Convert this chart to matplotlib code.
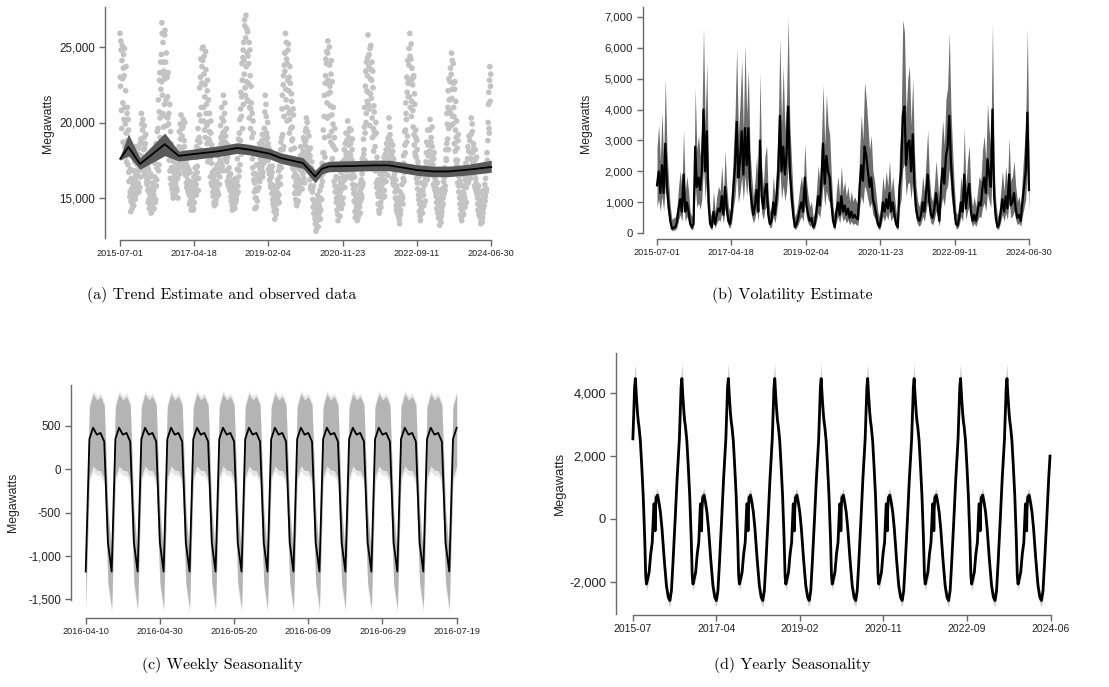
import datetime as dt
import numpy as np
import matplotlib
matplotlib.use("Agg")
import matplotlib.pyplot as plt
import matplotlib.dates as mdates
from matplotlib.ticker import FixedLocator, FixedFormatter

# ---------------- data ----------------
start_date = "2015-07-01"
end_date = "2024-06-30"
date_ticks = ["2015-07-01", "2017-04-18", "2019-02-04", "2020-11-23", "2022-09-11", "2024-06-30"]
month_ticks = ["2015-07", "2017-04", "2019-02", "2020-11", "2022-09", "2024-06"]
week_ticks = ["2016-04-10", "2016-04-30", "2016-05-20", "2016-06-09", "2016-06-29", "2016-07-19"]

# observed daily load (thousand MW), one value every 5 days from 1 July of each season year
obs_1516 = [25.9, 22.4, 24.8, 19.6, 25.1, 21.3, 23.6, 20.2, 24.9, 18.4, 22.1, 19.3, 17.8,
            21.0, 17.2, 19.5, 16.1, 18.4, 15.4, 14.1, 16.3, 15.0, 14.6, 16.8, 15.3,
            15.8, 17.4, 14.9, 16.5, 17.9, 15.6, 17.2, 16.0, 18.3, 16.9, 15.7, 17.6,
            18.9, 20.6, 17.4, 19.5, 16.8, 18.2, 19.8, 17.0, 18.6, 16.4, 17.7, 15.9,
            16.1, 14.7, 15.6, 14.3, 16.4, 15.0, 14.0, 15.4, 14.4, 16.0, 14.8, 15.2,
            15.7, 17.3, 14.9, 18.6, 16.2, 19.4, 18.1, 21.5, 17.2, 22.8, 20.3, 24.0]
obs_1617 = [24.5, 26.6, 21.8, 25.3, 19.7, 23.1, 25.8, 22.9, 20.4, 24.6, 18.8, 21.7, 23.3,
            19.9, 17.5, 21.2, 16.3, 18.6, 17.0, 15.6, 16.8, 15.0, 17.4, 15.9, 16.4,
            15.2, 16.9, 17.6, 15.5, 16.3, 18.1, 17.8, 19.4, 16.6, 18.9, 20.5, 17.3,
            19.1, 17.2, 20.2, 16.9, 18.4, 17.6, 16.5, 18.0, 15.7, 17.1, 16.2, 15.4,
            15.8, 14.6, 16.7, 15.1, 14.2, 16.0, 14.5, 15.9, 14.3, 16.4, 15.3, 17.0,
            16.6, 15.2, 18.4, 17.1, 19.6, 16.3, 19.0, 22.3, 18.2, 24.2, 21.0, 23.7]
obs_1718 = [22.6, 25.0, 20.1, 24.4, 21.7, 19.0, 23.5, 21.2, 18.6, 22.8, 20.0, 17.9, 19.4,
            18.7, 16.4, 20.1, 17.3, 15.8, 18.0, 15.1, 16.2, 14.5, 16.9, 15.6, 14.9,
            16.0, 17.2, 15.4, 16.7, 18.3, 15.9, 17.5, 19.8, 18.6, 21.0, 17.1, 19.3,
            21.8, 18.4, 20.6, 17.6, 19.1, 18.0, 17.4, 16.1, 18.5, 15.8, 17.0, 16.5,
            15.5, 16.6, 14.8, 15.9, 14.2, 16.2, 14.6, 15.7, 14.3, 15.1, 16.3, 14.9,
            16.1, 17.6, 15.4, 18.9, 16.8, 20.2, 18.8, 22.0, 20.4, 23.9, 19.6, 24.8]
obs_1819 = [25.3, 23.2, 26.4, 21.8, 27.1, 22.7, 24.6, 26.0, 21.4, 23.9, 20.3, 24.8, 19.6,
            22.4, 18.1, 20.6, 17.0, 19.3, 16.2, 15.4, 14.3, 16.6, 15.0, 17.2, 14.8,
            16.5, 17.9, 15.7, 18.6, 16.9, 17.3, 18.4, 17.0, 19.2, 16.7, 18.0, 17.6,
            19.6, 21.8, 18.2, 20.4, 17.5, 19.0, 18.6, 16.9, 17.8, 16.2, 18.1, 15.7,
            16.4, 15.3, 17.1, 14.6, 15.8, 14.1, 13.6, 14.8, 15.5, 14.2, 15.0, 16.2,
            15.3, 16.8, 14.7, 17.5, 15.9, 18.7, 17.6, 20.9, 19.2, 22.5, 18.4, 23.8]
obs_1920 = [23.4, 25.9, 21.5, 24.2, 20.1, 22.8, 25.2, 22.1, 19.3, 23.7, 20.8, 18.2, 21.4,
            19.7, 17.0, 20.5, 16.4, 18.3, 15.8, 14.9, 16.1, 14.5, 15.7, 17.0, 15.3,
            16.2, 17.5, 15.5, 18.4, 16.8, 17.1, 17.9, 16.6, 19.0, 17.3, 16.0, 18.5,
            18.8, 20.3, 17.2, 19.4, 16.9, 18.1, 17.5, 16.2, 18.3, 15.8, 17.0, 16.4,
            15.6, 14.4, 16.3, 13.9, 14.8, 13.3, 12.8, 14.1, 13.5, 15.2, 13.1, 14.6,
            14.0, 15.5, 13.6, 16.4, 14.9, 17.3, 16.6, 19.5, 18.0, 21.8, 17.7, 23.1]
obs_2021 = [22.6, 24.7, 20.3, 25.4, 21.9, 19.1, 23.8, 22.0, 18.7, 24.1, 20.5, 17.6, 19.9,
            18.4, 16.1, 19.6, 15.4, 17.2, 14.7, 14.2, 15.6, 13.5, 16.3, 14.8, 15.1,
            15.4, 16.7, 14.3, 16.0, 17.4, 15.0, 16.9, 18.2, 15.7, 17.6, 19.3, 16.4,
            18.0, 20.1, 16.8, 19.0, 17.3, 18.6, 17.8, 19.5, 16.3, 18.2, 15.9, 17.1,
            15.3, 16.4, 14.1, 15.8, 14.6, 13.9, 13.5, 14.7, 15.3, 13.9, 14.4, 15.9,
            14.8, 16.2, 15.0, 17.6, 16.0, 18.9, 18.2, 21.0, 19.3, 23.4, 20.6, 22.1]
obs_2122 = [23.1, 25.8, 21.2, 24.5, 19.8, 22.9, 25.1, 21.6, 24.0, 19.0, 22.3, 18.1, 20.7,
            19.2, 16.8, 20.0, 16.0, 17.7, 15.3, 14.6, 15.9, 14.0, 16.6, 15.2, 14.4,
            15.7, 16.9, 15.0, 17.3, 16.2, 15.5, 16.8, 17.9, 16.1, 18.6, 17.2, 16.5,
            18.3, 20.3, 17.0, 19.2, 18.8, 17.4, 17.9, 16.3, 18.5, 15.9, 17.1, 16.6,
            15.4, 16.2, 14.5, 15.8, 14.0, 15.0, 13.8, 14.9, 13.3, 15.4, 14.2, 14.7,
            15.2, 16.9, 14.6, 17.8, 16.1, 19.4, 18.0, 21.3, 20.2, 23.0, 19.1, 22.6]
obs_2223 = [22.8, 24.9, 25.9, 21.0, 24.2, 20.4, 23.6, 22.5, 19.7, 23.1, 18.5, 21.2, 17.8,
            19.0, 16.3, 18.2, 15.6, 17.1, 14.9, 14.1, 15.4, 13.5, 16.0, 14.7, 15.2,
            15.5, 16.6, 14.5, 17.0, 15.9, 16.3, 17.4, 18.7, 16.2, 19.5, 17.8, 16.7,
            18.1, 20.2, 16.9, 19.0, 17.5, 18.4, 17.2, 15.9, 18.0, 16.4, 15.5, 16.8,
            15.1, 14.3, 16.0, 14.8, 13.7, 15.4, 13.2, 14.5, 15.0, 13.8, 14.1, 15.6,
            14.6, 16.1, 15.3, 17.0, 15.8, 18.2, 17.5, 20.6, 18.9, 22.1, 19.6, 21.5]
obs_2324 = [21.5, 23.6, 19.8, 24.6, 22.2, 20.4, 23.9, 21.0, 18.6, 22.7, 19.5, 17.5, 20.1,
            18.3, 16.0, 19.2, 15.4, 16.8, 14.6, 13.9, 15.2, 13.5, 15.8, 14.6, 15.0,
            15.3, 16.5, 14.4, 16.9, 15.7, 16.1, 17.0, 18.4, 16.0, 19.1, 17.6, 16.6,
            18.0, 20.3, 16.8, 19.4, 17.3, 18.6, 17.1, 15.8, 18.2, 16.3, 15.4, 16.9,
            15.0, 14.2, 15.8, 14.6, 13.8, 15.3, 13.3, 14.4, 14.9, 13.7, 14.0, 15.5,
            14.5, 15.9, 15.1, 16.8, 15.6, 18.0, 17.4, 20.0, 22.0, 19.3, 23.7, 22.4]
# second reading of the same seasons, shifted by 2.5 days
obs2_1516 = [23.0, 25.4, 20.8, 24.1, 22.9, 18.7, 24.5, 23.1, 21.0, 19.9, 23.7, 17.4, 20.6,
             18.8, 20.2, 16.7, 17.9, 15.1, 16.9, 14.8, 15.6, 14.3, 16.0, 15.9, 14.5,
             16.8, 15.1, 16.2, 18.4, 15.3, 16.7, 16.5, 17.9, 15.4, 17.3, 18.6, 16.4,
             17.8, 19.9, 18.6, 20.2, 17.1, 19.0, 18.3, 16.6, 19.2, 17.4, 16.1, 17.2,
             15.5, 16.9, 14.9, 15.3, 14.6, 16.6, 14.5, 14.1, 15.7, 14.9, 15.5, 14.3,
             16.4, 14.7, 17.8, 15.8, 17.0, 18.2, 19.6, 16.8, 20.7, 23.3, 19.0, 22.2]
obs2_1617 = [22.7, 25.9, 20.6, 24.0, 23.4, 21.2, 26.1, 24.0, 21.5, 19.8, 23.0, 20.3, 18.6,
             20.6, 18.2, 16.8, 19.4, 15.9, 17.7, 16.2, 15.3, 17.0, 15.7, 16.6, 15.1,
             16.0, 15.7, 17.2, 16.8, 15.0, 17.5, 18.4, 17.0, 19.9, 17.7, 18.2, 19.6,
             18.0, 19.7, 17.5, 18.8, 20.0, 16.7, 17.3, 16.0, 17.6, 16.6, 15.5, 16.9,
             15.2, 16.1, 14.8, 15.5, 14.5, 15.6, 15.0, 14.2, 15.6, 14.7, 16.1, 15.8,
             15.9, 17.7, 16.7, 18.8, 15.5, 18.0, 20.5, 18.7, 23.0, 20.1, 22.6, 24.9]
obs2_1718 = [24.1, 21.0, 23.2, 19.5, 22.5, 24.7, 20.6, 19.8, 22.1, 17.4, 21.5, 18.9, 20.6,
             17.6, 19.3, 16.0, 18.5, 16.7, 15.4, 15.8, 14.7, 16.5, 15.2, 14.6, 16.1,
             15.6, 16.9, 17.8, 15.2, 17.0, 16.4, 18.1, 19.0, 17.3, 20.3, 18.8, 16.8,
             20.1, 19.4, 21.3, 18.7, 17.9, 19.6, 16.8, 17.7, 15.9, 16.4, 18.0, 15.6,
             16.0, 15.1, 15.6, 14.5, 15.3, 14.8, 15.3, 14.4, 16.0, 14.7, 15.6, 15.2,
             16.9, 15.8, 18.1, 16.4, 19.3, 17.2, 20.9, 17.9, 21.7, 22.8, 24.3, 21.2]
obs2_1819 = [24.1, 26.8, 22.3, 25.6, 23.7, 26.2, 21.5, 24.4, 22.6, 25.3, 21.0, 23.1, 20.9,
             21.3, 19.0, 17.6, 20.1, 16.6, 18.2, 16.0, 15.0, 15.6, 14.4, 16.2, 15.5,
             17.2, 16.3, 18.0, 16.1, 17.6, 16.6, 17.9, 18.8, 16.4, 18.5, 17.3, 19.6,
             20.7, 18.9, 21.2, 19.3, 18.4, 20.0, 17.5, 18.3, 16.6, 17.1, 15.9, 16.8,
             15.9, 16.7, 14.9, 15.5, 14.4, 15.1, 14.1, 15.2, 13.9, 14.6, 15.7, 14.8,
             16.0, 15.2, 17.1, 16.4, 18.2, 17.0, 19.0, 21.8, 18.2, 23.1, 20.4, 24.6]
obs2_1920 = [24.6, 22.2, 25.3, 21.0, 23.9, 24.8, 20.6, 23.0, 20.2, 22.6, 19.6, 21.9, 18.8,
             18.9, 20.9, 16.9, 17.6, 15.3, 16.6, 15.4, 14.6, 15.9, 16.4, 14.8, 16.0,
             15.8, 16.9, 17.8, 16.0, 17.3, 15.6, 17.0, 18.1, 16.3, 18.8, 17.6, 19.4,
             19.6, 17.8, 20.0, 18.3, 17.6, 19.1, 16.9, 17.8, 15.6, 16.7, 17.4, 15.4,
             14.9, 15.8, 14.0, 14.7, 13.6, 14.2, 13.4, 13.0, 14.4, 13.8, 14.9, 13.7,
             14.4, 15.0, 14.2, 15.8, 16.7, 16.1, 18.0, 17.2, 20.4, 19.0, 22.6, 24.2]
obs2_2021 = [23.9, 21.3, 24.6, 22.8, 20.4, 25.0, 22.4, 21.1, 23.2, 19.4, 22.7, 18.5, 21.0,
             17.1, 19.0, 15.8, 18.2, 16.4, 15.0, 14.9, 13.9, 15.3, 14.5, 15.8, 13.8,
             16.0, 14.8, 15.6, 17.0, 14.6, 16.4, 17.4, 16.2, 18.6, 16.8, 17.9, 18.8,
             19.3, 17.6, 18.5, 16.4, 19.6, 17.9, 18.6, 16.9, 17.5, 18.9, 16.6, 15.6,
             14.8, 15.6, 13.7, 15.1, 14.3, 14.6, 14.1, 13.7, 14.9, 14.6, 15.4, 14.0,
             15.6, 15.2, 16.6, 15.8, 17.3, 17.9, 19.7, 17.5, 22.4, 20.0, 24.0, 21.4]
obs2_2122 = [24.3, 22.0, 23.7, 20.9, 24.9, 21.9, 23.5, 22.8, 20.3, 23.4, 19.6, 21.1, 19.4,
             18.4, 17.2, 19.3, 15.7, 17.0, 16.2, 15.1, 14.2, 15.6, 16.1, 14.7, 15.3,
             16.3, 15.4, 16.6, 16.0, 17.7, 15.1, 17.3, 16.6, 18.2, 17.0, 17.7, 18.9,
             19.0, 17.7, 19.7, 18.1, 17.2, 18.6, 17.0, 18.1, 16.0, 17.6, 16.3, 15.8,
             15.0, 15.7, 14.2, 14.8, 14.4, 15.5, 14.3, 13.6, 14.6, 13.9, 14.8, 15.1,
             15.9, 15.0, 16.3, 17.3, 16.7, 18.5, 19.5, 20.6, 18.7, 22.0, 24.1, 21.7]
obs2_2223 = [23.8, 21.7, 24.4, 22.6, 25.2, 21.4, 22.9, 20.8, 23.0, 19.2, 21.9, 18.0, 19.5,
             17.7, 18.8, 16.0, 17.4, 15.2, 16.4, 14.6, 13.8, 15.1, 14.3, 15.5, 14.0,
             16.0, 15.2, 15.8, 16.8, 14.8, 16.5, 18.0, 16.9, 17.2, 18.5, 16.5, 17.3,
             19.5, 17.9, 18.7, 17.2, 19.7, 17.8, 16.6, 17.6, 15.7, 16.9, 16.2, 15.3,
             14.7, 15.6, 14.0, 15.0, 14.5, 14.2, 13.6, 14.2, 13.4, 14.7, 14.4, 15.2,
             15.0, 15.7, 16.4, 15.5, 16.6, 17.6, 18.6, 19.9, 21.0, 18.2, 22.9, 20.8]
obs2_2324 = [22.7, 20.6, 23.2, 21.6, 24.1, 19.9, 22.6, 20.4, 22.2, 18.1, 21.4, 19.0, 17.2,
             17.5, 18.8, 15.8, 16.4, 15.0, 16.1, 14.3, 13.7, 14.9, 14.1, 15.4, 13.9,
             15.8, 15.0, 16.2, 17.3, 14.7, 16.4, 17.6, 16.4, 18.1, 17.0, 18.8, 16.3,
             19.2, 17.6, 19.9, 18.0, 17.0, 18.3, 16.6, 17.5, 15.6, 16.0, 17.7, 15.2,
             14.6, 15.5, 13.9, 14.9, 14.3, 14.0, 13.5, 14.1, 13.4, 14.6, 14.3, 15.1,
             15.2, 14.8, 16.3, 15.4, 17.1, 17.5, 18.8, 21.2, 19.6, 22.8, 21.4, 23.2]
obs_seasons = [2015, 2016, 2017, 2018, 2019, 2020, 2021, 2022, 2023]

# trend estimate (decimal year, thousand MW) with credible band
trend_t = [2015.50, 2015.70, 2015.98, 2016.58, 2016.92, 2017.35, 2017.90, 2018.34, 2018.64, 2019.13,
           2019.40, 2019.93, 2020.23, 2020.40, 2020.57, 2021.10, 2021.64, 2022.01, 2022.32, 2022.70,
           2023.08, 2023.45, 2023.92, 2024.50]
trend_mid = [17.60, 18.38, 17.25, 18.56, 17.79, 17.93, 18.10, 18.31, 18.20, 17.93,
             17.64, 17.32, 16.43, 16.95, 17.09, 17.12, 17.16, 17.16, 17.03, 16.85,
             16.76, 16.76, 16.87, 17.05]
trend_hi = [17.75, 19.25, 17.65, 19.30, 18.10, 18.28, 18.45, 18.66, 18.55, 18.28,
            17.99, 17.67, 16.85, 17.30, 17.44, 17.47, 17.51, 17.51, 17.38, 17.20,
            17.11, 17.11, 17.22, 17.50]
trend_lo = [17.50, 17.80, 16.90, 17.80, 17.45, 17.58, 17.75, 17.96, 17.85, 17.58,
            17.29, 16.97, 16.00, 16.60, 16.74, 16.77, 16.81, 16.81, 16.68, 16.50,
            16.41, 16.41, 16.52, 16.70]

# volatility estimate (MW), evenly spaced over the sample
vol_mid = [1550, 2000, 1300, 2200, 1300, 2900, 1500, 900, 400, 150, 180, 200, 350, 800, 1100,
           700, 1900, 700, 1000, 700, 300, 200, 300, 2800, 1500, 1800, 1400, 2000, 4000, 2000,
           3300, 1000, 300, 200, 700, 300, 600, 800, 700, 1200, 600, 1500, 800, 400, 300,
           700, 1500, 2200, 3600, 1800, 2400, 3300, 1900, 3400, 2200, 3400, 1500, 1000, 600, 900,
           1400, 700, 3000, 1200, 800, 1400, 1600, 600, 300, 400, 1000, 600, 1200, 2000, 3800,
           2000, 2800, 1900, 2500, 4100, 2000, 1300, 600, 200, 300, 500, 800, 1000, 700, 1800,
           900, 600, 400, 500, 200, 300, 700, 1200, 900, 1700, 2900, 1600, 2500, 2000, 1800,
           1000, 400, 200, 700, 1000, 600, 1200, 700, 900, 600, 800, 500, 700, 500, 600,
           500, 450, 1500, 2200, 1700, 2800, 2500, 2000, 1500, 1800, 1100, 900, 600, 300, 200,
           500, 1000, 700, 1100, 800, 1300, 700, 1000, 600, 300, 200, 1500, 2000, 3800, 4100,
           2200, 2900, 3000, 2000, 3200, 1500, 800, 500, 400, 600, 1000, 700, 1300, 1900, 1000,
           600, 500, 800, 1300, 900, 400, 1500, 2100, 1600, 2500, 2800, 3800, 2300, 1500, 800,
           300, 250, 500, 1000, 700, 1900, 800, 1300, 1600, 700, 400, 600, 400, 700, 1000,
           900, 1500, 1800, 1300, 2400, 1900, 1500, 4000, 1200, 500, 200, 300, 700, 1100, 700,
           1200, 800, 1900, 900, 1000, 1300, 800, 500, 600, 400, 1000, 1500, 2000, 3900, 1400]
vol_hi = [2760, 3500, 2350, 3900, 2350, 5000, 2680, 1690, 860, 450, 500, 530, 780, 1520, 2020,
          1360, 3340, 1360, 1850, 1360, 700, 530, 700, 4700, 2680, 3170, 2510, 3500, 6650, 3500,
          5500, 1850, 700, 530, 1360, 700, 1190, 1520, 1360, 2180, 1190, 2680, 1520, 860, 700,
          1360, 2680, 3830, 6000, 3170, 4160, 5600, 3340, 6100, 3830, 5300, 2680, 1850, 1190, 1690,
          2510, 1360, 5200, 2180, 1520, 2510, 2840, 1190, 700, 860, 1850, 1190, 2180, 3500, 6300,
          3500, 5400, 3340, 4330, 7000, 3500, 2350, 1190, 530, 700, 1030, 1520, 1850, 1360, 2900,
          1690, 1190, 860, 1030, 530, 700, 1360, 2180, 1690, 3010, 4800, 2840, 4500, 3500, 3170,
          1850, 860, 530, 1360, 1850, 1190, 2180, 1360, 1690, 1190, 1520, 1030, 1360, 1030, 1190,
          1030, 940, 2680, 3830, 3010, 4900, 4330, 3500, 2680, 3170, 2020, 1690, 1190, 700, 530,
          1030, 1850, 1360, 2020, 1520, 2350, 1360, 1850, 1190, 700, 530, 2680, 3500, 6900, 6500,
          3830, 4990, 5400, 3500, 5000, 2680, 1520, 1030, 860, 1190, 1850, 1360, 2350, 3340, 1850,
          1190, 1030, 1520, 2350, 1690, 860, 2680, 3660, 2840, 4330, 4700, 6500, 4000, 2680, 1520,
          700, 610, 1030, 1850, 1360, 3400, 1520, 2350, 2840, 1360, 860, 1190, 860, 1360, 1850,
          1690, 2680, 3170, 2350, 4200, 3340, 2680, 6800, 2180, 1030, 530, 700, 1360, 2020, 1360,
          2180, 1520, 3100, 1690, 1850, 2350, 1520, 1030, 1190, 860, 1850, 2680, 3500, 6600, 2510]
vol_lo = [850, 1100, 720, 1210, 720, 1600, 830, 500, 220, 80, 100, 110, 190, 440, 610,
          390, 1050, 390, 550, 390, 170, 110, 170, 1540, 830, 990, 770, 1100, 2200, 1100,
          1820, 550, 170, 110, 390, 170, 330, 440, 390, 660, 330, 830, 440, 220, 170,
          390, 830, 1210, 1980, 990, 1320, 1820, 1050, 1870, 1210, 1870, 830, 550, 330, 500,
          770, 390, 1650, 660, 440, 770, 880, 330, 170, 220, 550, 330, 660, 1100, 2090,
          1100, 1540, 1050, 1380, 2260, 1100, 720, 330, 110, 170, 280, 440, 550, 390, 990,
          500, 330, 220, 280, 110, 170, 390, 660, 500, 940, 1600, 880, 1380, 1100, 990,
          550, 220, 110, 390, 550, 330, 660, 390, 500, 330, 440, 280, 390, 280, 330,
          280, 250, 830, 1210, 940, 1540, 1380, 1100, 830, 990, 610, 500, 330, 170, 110,
          280, 550, 390, 610, 440, 720, 390, 550, 330, 170, 110, 830, 1100, 2090, 2260,
          1210, 1600, 1650, 1100, 1760, 830, 440, 280, 220, 330, 550, 390, 720, 1050, 550,
          330, 280, 440, 720, 500, 220, 830, 1160, 880, 1380, 1540, 2090, 1270, 830, 440,
          170, 140, 280, 550, 390, 1050, 440, 720, 880, 390, 220, 330, 220, 390, 550,
          500, 830, 990, 720, 1320, 1050, 830, 2200, 660, 280, 110, 170, 390, 610, 390,
          660, 440, 1050, 500, 550, 720, 440, 280, 330, 220, 550, 830, 1100, 2150, 770]

# weekly seasonality by weekday (MW)
weekdays = ["Sun", "Mon", "Tue", "Wed", "Thu", "Fri", "Sat"]
week_mid = [-1180, 350, 480, 400, 420, 320, -850]
week_hi = [-1000, 720, 870, 800, 840, 740, -480]
week_lo = [-1600, -85, 40, -10, -15, -110, -1300]
week_start = "2016-04-10"
week_end = "2016-07-19"

# yearly seasonality profile (fraction of year, MW)
year_frac = [0.000, 0.030, 0.060, 0.093, 0.127, 0.174, 0.222, 0.262, 0.296, 0.329, 0.363, 0.410,
             0.451, 0.480, 0.500, 0.520, 0.537, 0.554, 0.575, 0.600, 0.615, 0.630, 0.660, 0.690,
             0.722, 0.755, 0.776, 0.792, 0.816, 0.850, 0.883, 0.917, 0.935, 0.952, 0.972, 0.978, 0.985]
year_mid = [680, 760, 530, 210, -320, -1280, -2130, -2500, -2600, -2290, -1380, 0,
            1280, 2000, 2550, 3500, 4200, 4470, 3900, 3350, 3100, 2950, 2500, 1700,
            745, -640, -1810, -2075, -1915, -1700, -1120, -745, -150, 480, 420, -380, 300]
year_hi = [900, 980, 760, 450, -80, -1020, -1880, -2280, -2380, -2040, -1100, 300,
           1600, 2350, 2950, 3950, 4700, 4950, 4300, 3700, 3400, 3250, 2800, 2000,
           1050, -350, -1550, -1830, -1650, -1450, -850, -480, 150, 900, 700, -100, 600]
year_lo = [450, 520, 300, -30, -560, -1540, -2380, -2720, -2800, -2520, -1650, -300,
           950, 1650, 2150, 3050, 3750, 4050, 3500, 3000, 2800, 2650, 2200, 1400,
           450, -920, -2080, -2300, -2150, -1950, -1400, -1000, -450, 150, 150, -650, 0]
year_span = [2015, 2016, 2017, 2018, 2019, 2020, 2021, 2022, 2023, 2024]

# ---------------- helpers ----------------
W, H = 1109, 687
plt.rcParams["font.family"] = ["Liberation Sans", "DejaVu Sans"]
fig = plt.figure(figsize=(W / 100, H / 100), dpi=100)
AX_COL = "#6a6a6a"


def d2n(s):
    return mdates.date2num(dt.datetime.strptime(s, "%Y-%m-%d"))


def yfrac2n(t):
    y = int(np.floor(t))
    a = dt.datetime(y, 1, 1)
    b = dt.datetime(y + 1, 1, 1)
    return mdates.date2num(a + (b - a) * (t - y))


def make_ax(box, xcal, ycal):
    x0, x1, y0, y1 = box
    ax = fig.add_axes([x0 / W, 1 - y1 / H, (x1 - x0) / W, (y1 - y0) / H])
    (px0, vx0), (px1, vx1) = xcal
    sx = (vx1 - vx0) / (px1 - px0)
    ax.set_xlim(vx0 + (x0 - px0) * sx, vx0 + (x1 - px0) * sx)
    (py0, vy0), (py1, vy1) = ycal
    sy = (vy1 - vy0) / (py1 - py0)
    ax.set_ylim(vy0 + (y1 - py0) * sy, vy0 + (y0 - py0) * sy)
    ax.patch.set_visible(False)
    return ax


def style(ax, spine_x, spine_y, box, xbounds, ybounds, yticks, xticks, xlabels,
          ysize, xsize, ylab_xy, ylab_size):
    x0, x1, y0, y1 = box
    for s in ("top", "right"):
        ax.spines[s].set_visible(False)
    ax.spines["left"].set_position(("outward", (x0 - spine_x) * 0.72))
    ax.spines["bottom"].set_position(("outward", (spine_y - y1) * 0.72))
    ax.spines["left"].set_bounds(*ybounds)
    ax.spines["bottom"].set_bounds(*xbounds)
    for s in ("left", "bottom"):
        ax.spines[s].set_color(AX_COL)
        ax.spines[s].set_linewidth(1.0)
    ax.yaxis.set_major_locator(FixedLocator(yticks))
    ax.yaxis.set_major_formatter(FixedFormatter([f"{v:,.0f}" for v in yticks]))
    ax.xaxis.set_major_locator(FixedLocator(xticks))
    ax.xaxis.set_major_formatter(FixedFormatter(xlabels))
    ax.tick_params(axis="y", length=4, width=1.0, color=AX_COL, labelsize=ysize,
                   pad=3, labelcolor="#222222")
    ax.tick_params(axis="x", length=4, width=1.0, color=AX_COL, labelsize=xsize,
                   pad=2.5, labelcolor="#222222")
    fig.text(ylab_xy[0] / W, 1 - ylab_xy[1] / H, "Megawatts", rotation=90,
             ha="center", va="center", fontsize=ylab_size, color="#222222")


d0, d1 = d2n(start_date), d2n(end_date)
tick_pos = [d2n(s) for s in date_ticks]

# ---------------- (a) trend ----------------
box_a = (112, 499, 7, 238)
ax = make_ax(box_a, [(120, d0), (491, d1)], [(198, 15000), (47, 25000)])
obs_sets = [
    (0.0, [obs_1516, obs_1617, obs_1718, obs_1819, obs_1920, obs_2021, obs_2122, obs_2223, obs_2324]),
    (2.5, [obs2_1516, obs2_1617, obs2_1718, obs2_1819, obs2_1920, obs2_2021, obs2_2122, obs2_2223, obs2_2324]),
]
for shift, lists in obs_sets:
    for yr, vals in zip(obs_seasons, lists):
        base = mdates.date2num(dt.datetime(yr, 7, 1)) + shift
        xs = [base + 5 * i for i in range(len(vals))]
        ax.scatter(xs, [v * 1000 for v in vals], s=17, color="#c3c3c3",
                   edgecolors="none", zorder=1)
tx = [yfrac2n(t) for t in trend_t]
ax.fill_between(tx, [v * 1000 for v in trend_lo], [v * 1000 for v in trend_hi],
                color="#5a5a5a", linewidth=0, zorder=2)
ax.plot(tx, [v * 1000 for v in trend_mid], color="black", lw=1.3, zorder=3)
ylo, yhi = ax.get_ylim()
style(ax, 105, 240, box_a, (d0, d1), (ylo, yhi), [15000, 20000, 25000], tick_pos, date_ticks,
      8.4, 6.6, (48, 123), 8.8)

# ---------------- (b) volatility ----------------
box_b = (650, 1036, 7, 233.5)
ax = make_ax(box_b, [(657, d0), (1029, d1)], [(233.3, 0), (16.7, 7000)])
vx = np.linspace(d0, d1, len(vol_mid))
ax.fill_between(vx, vol_lo, vol_hi, color="#6e6e6e", linewidth=0, zorder=1)
ax.plot(vx, vol_mid, color="black", lw=1.6, zorder=2)
ylo, yhi = ax.get_ylim()
style(ax, 643, 239, box_b, (d0, d1), (0, yhi), list(range(0, 7001, 1000)), tick_pos, date_ticks,
      8.1, 6.6, (586, 123), 8.8)

# ---------------- (c) weekly ----------------
box_c = (80, 462, 385, 612)
w0, w1 = d2n(week_start), d2n(week_end)
ax = make_ax(box_c, [(85.7, w0), (456.7, w1)], [(426, 500), (599.3, -1500)])
days = [dt.datetime.strptime(week_start, "%Y-%m-%d") + dt.timedelta(days=i)
        for i in range(int(w1 - w0) + 1)]
idx = [(d.weekday() + 1) % 7 for d in days]
wx = mdates.date2num(days)
ax.fill_between(wx, [week_lo[i] - 60 for i in idx], [week_hi[i] + 40 for i in idx],
                color="#e6e6e6", linewidth=0, zorder=0)
ax.fill_between(wx, [week_lo[i] for i in idx], [week_hi[i] for i in idx],
                color="#b4b4b4", linewidth=0, zorder=1)
ax.plot(wx, [week_mid[i] for i in idx], color="black", lw=1.3, zorder=2)
wt = [d2n(s) for s in week_ticks]
style(ax, 70.7, 617.7, box_c, (w0, w1), (-1504, 976), [-1500, -1000, -500, 0, 500], wt, week_ticks,
      8.3, 6.6, (13, 502), 8.8)

# ---------------- (d) yearly ----------------
box_d = (626, 1057, 353, 614)
ax = make_ax(box_d, [(632.7, d0), (1050.7, d1)], [(393.3, 4000), (581.7, -2000)])
yx, ym, yh, yl = [], [], [], []
for yr in year_span:
    for f, m, h, l in zip(year_frac, year_mid, year_hi, year_lo):
        x = yfrac2n(yr + f)
        if d0 <= x <= d1:
            yx.append(x); ym.append(m); yh.append(h); yl.append(l)
ax.fill_between(yx, yl, yh, color="#d0d0d0", linewidth=0, zorder=1)
ax.plot(yx, ym, color="black", lw=2.0, zorder=2)
ylo, yhi = ax.get_ylim()
style(ax, 615.7, 615, box_d, (d0, d1), (ylo, yhi), [-2000, 0, 2000, 4000], tick_pos, month_ticks,
      9.4, 7.5, (560, 483), 9.4)

# ---------------- captions ----------------
cap_kw = dict(family="cmr10", fontsize=11.5, ha="center", va="center", color="black")
fig.text(222 / W, 1 - 295 / H, "(a) Trend Estimate and observed data", **cap_kw)
fig.text(792 / W, 1 - 295 / H, "(b) Volatility Estimate", **cap_kw)
fig.text(222 / W, 1 - 665 / H, "(c) Weekly Seasonality", **cap_kw)
fig.text(792 / W, 1 - 665 / H, "(d) Yearly Seasonality", **cap_kw)

fig.savefig("out.png", dpi=100)
